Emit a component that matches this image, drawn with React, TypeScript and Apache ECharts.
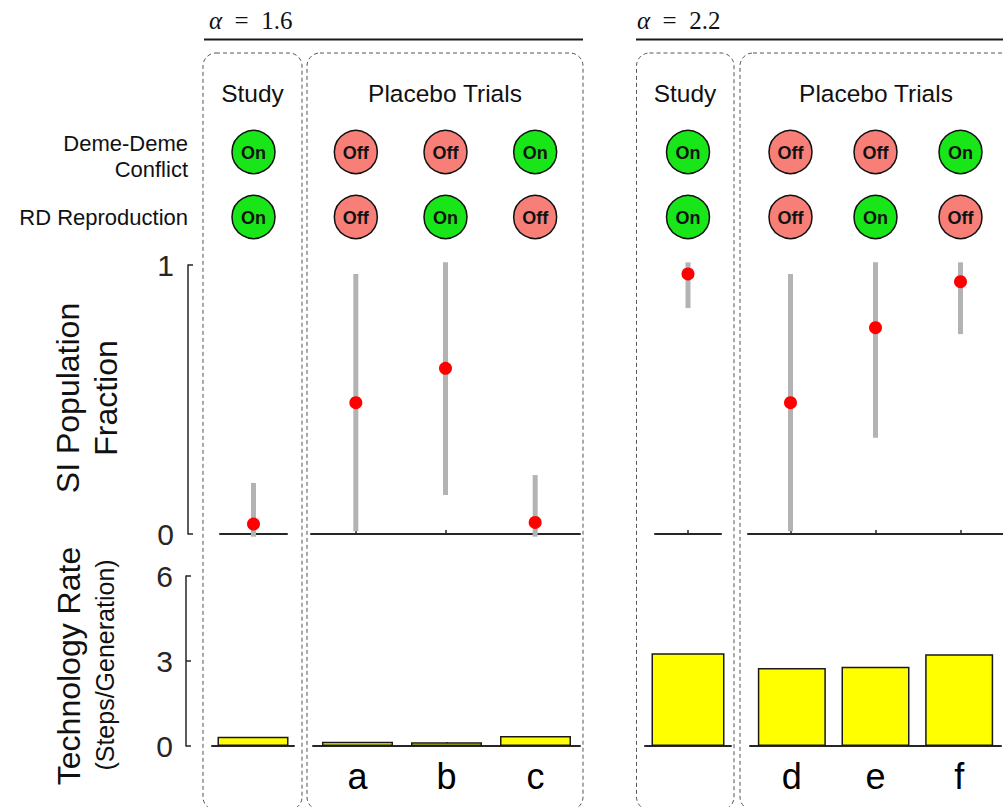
import React, { useEffect, useRef } from "react";
import * as echarts from "echarts";

// ---------- data ----------
const alphaValues = ["1.6", "2.2"];
const studyCategories = ["Study"];
const placeboCategories1 = ["a", "b", "c"];
const placeboCategories2 = ["d", "e", "f"];

// SI population fraction (mean, lower end, upper end of the grey range)
const study1Mean = [0.037];
const study1Low = [-0.01];
const study1High = [0.19];
const placebo1Mean = [0.488, 0.616, 0.043];
const placebo1Low = [0.01, 0.145, -0.01];
const placebo1High = [0.967, 1.01, 0.219];
const study2Mean = [0.967];
const study2Low = [0.84];
const study2High = [1.01];
const placebo2Mean = [0.488, 0.767, 0.938];
const placebo2Low = [0.01, 0.358, 0.743];
const placebo2High = [0.967, 1.01, 1.01];

// Technology rate (steps / generation)
const study1Rate = [0.33];
const placebo1Rate = [0.15, 0.13, 0.35];
const study2Rate = [3.27];
const placebo2Rate = [2.75, 2.8, 3.24];

// switches
const conflictStudy = ["On"];
const conflictPlacebo = ["Off", "Off", "On"];
const rdStudy = ["On"];
const rdPlacebo = ["Off", "On", "Off"];

const topTicks = { min: 0, max: 1, interval: 1 };
const bottomTicks = { min: 0, max: 6, interval: 3 };

// ---------- layout ----------
const FONT = "'Liberation Sans', Arial, Helvetica, sans-serif";
const SERIF = "'Liberation Serif', 'DejaVu Serif', serif";
const AXIS_COLOR = "#262626";
const TOP_Y = 265;
const TOP_H = 269;
const BOT_Y = 576;
const BOT_H = 170;
const topGrids = [
  { left: 220, width: 67 },
  { left: 311, width: 269 },
  { left: 655, width: 66 },
  { left: 748, width: 258 },
];
const bottomGrids = [
  { left: 212, width: 82 },
  { left: 313, width: 267 },
  { left: 645, width: 86 },
  { left: 750, width: 251 },
];

const panels = [
  { cats: studyCategories, mean: study1Mean, low: study1Low, high: study1High, rate: study1Rate, conflict: conflictStudy, rd: rdStudy, showLabels: false },
  { cats: placeboCategories1, mean: placebo1Mean, low: placebo1Low, high: placebo1High, rate: placebo1Rate, conflict: conflictPlacebo, rd: rdPlacebo, showLabels: true },
  { cats: studyCategories, mean: study2Mean, low: study2Low, high: study2High, rate: study2Rate, conflict: conflictStudy, rd: rdStudy, showLabels: false },
  { cats: placeboCategories2, mean: placebo2Mean, low: placebo2Low, high: placebo2High, rate: placebo2Rate, conflict: conflictPlacebo, rd: rdPlacebo, showLabels: true },
];

export default function App() {
  const ref = useRef<HTMLDivElement>(null);

  useEffect(() => {
    if (!ref.current) return;
    const chart = echarts.init(ref.current, null, { renderer: "svg" });

    const grid: any[] = [];
    const xAxis: any[] = [];
    const yAxis: any[] = [];
    const series: any[] = [];

    const xAxisBase = (cats: string[], gridIndex: number, showLabels: boolean) => ({
      type: "category",
      gridIndex,
      data: cats,
      axisLine: { show: true, lineStyle: { color: AXIS_COLOR, width: 2 } },
      axisTick: { show: true, inside: true, length: 4, alignWithLabel: true, lineStyle: { color: AXIS_COLOR, width: 1.5 } },
      axisLabel: { show: showLabels, fontSize: 36, color: "#000", fontFamily: FONT, margin: 12 },
      splitLine: { show: false },
    });

    // top grids 0..3
    panels.forEach((p, i) => {
      grid.push({ left: topGrids[i].left, width: topGrids[i].width, top: TOP_Y, height: TOP_H, containLabel: false });
      xAxis.push(xAxisBase(p.cats, i, false));
      yAxis.push({
        type: "value",
        gridIndex: i,
        ...topTicks,
        show: i === 0,
        offset: 32,
        axisLine: { show: true, lineStyle: { color: AXIS_COLOR, width: 1.5 } },
        axisTick: { show: true, inside: true, length: 5, lineStyle: { color: AXIS_COLOR, width: 1.5 } },
        axisLabel: { fontSize: 30, color: AXIS_COLOR, fontFamily: FONT, margin: 14 },
        splitLine: { show: false },
      });
      series.push({
        type: "custom",
        xAxisIndex: i,
        yAxisIndex: i,
        clip: false,
        encode: { x: 0, y: [1, 2] },
        data: p.cats.map((_, k) => [k, p.low[k], p.high[k]]),
        renderItem: (params: any, api: any) => {
          const x = api.value(0);
          const a = api.coord([x, api.value(1)]);
          const b = api.coord([x, api.value(2)]);
          return {
            type: "line",
            shape: { x1: a[0], y1: a[1], x2: b[0], y2: b[1] },
            style: { stroke: "#b3b3b3", lineWidth: 5 },
          };
        },
        z: 2,
      });
      series.push({
        type: "scatter",
        xAxisIndex: i,
        yAxisIndex: i,
        data: p.mean,
        symbolSize: 13,
        itemStyle: { color: "#ff0000", opacity: 1 },
        z: 3,
      });
    });

    // bottom grids 4..7
    panels.forEach((p, i) => {
      const gi = i + 4;
      grid.push({ left: bottomGrids[i].left, width: bottomGrids[i].width, top: BOT_Y, height: BOT_H, containLabel: false });
      xAxis.push(xAxisBase(p.cats, gi, p.showLabels));
      yAxis.push({
        type: "value",
        gridIndex: gi,
        ...bottomTicks,
        show: i === 0,
        offset: 26,
        axisLine: { show: true, lineStyle: { color: AXIS_COLOR, width: 1.5 } },
        axisTick: { show: true, inside: true, length: 5, lineStyle: { color: AXIS_COLOR, width: 1.5 } },
        axisLabel: { fontSize: 30, color: AXIS_COLOR, fontFamily: FONT, margin: 13 },
        splitLine: { show: false },
      });
      series.push({
        type: "bar",
        xAxisIndex: gi,
        yAxisIndex: gi,
        data: p.rate,
        barWidth: i === 3 ? 68 : i === 2 ? 73 : 71,
        itemStyle: { color: "#ffff00", borderColor: "#1a1a1a", borderWidth: 1.5 },
      });
    });

    chart.setOption({
      animation: false,
      backgroundColor: "#ffffff",
      grid,
      xAxis,
      yAxis,
      series,
    });

    // graphic annotations
    const g: any[] = [];
    const boxes = [
      { x: 203, w: 99 },
      { x: 307, w: 276 },
      { x: 636.5, w: 97.5 },
      { x: 740, w: 300 },
    ];
    boxes.forEach((b) =>
      g.push({
        type: "rect",
        shape: { x: b.x, y: 53, width: b.w, height: 757, r: 13 },
        style: { fill: "none", stroke: "#555", lineWidth: 1, lineDash: [4, 3] },
        silent: true,
      })
    );
    const alphaPos = [
      { x: 209, x1: 204, x2: 583 },
      { x: 637, x1: 636, x2: 1010 },
    ];
    alphaValues.forEach((v, i) => {
      g.push({
        type: "line",
        shape: { x1: alphaPos[i].x1, y1: 39.5, x2: alphaPos[i].x2, y2: 39.5 },
        style: { stroke: "#1a1a1a", lineWidth: 2 },
      });
      g.push({
        type: "text",
        x: alphaPos[i].x,
        y: 20,
        style: {
          text: "{a|α}{b|  =  " + v + "}",
          verticalAlign: "middle",
          align: "left",
          rich: {
            a: { fontFamily: SERIF, fontStyle: "italic", fontSize: 25, fill: "#111" },
            b: { fontFamily: SERIF, fontSize: 25, fill: "#111" },
          },
        },
      });
    });

    const headers = [
      { text: "Study", x: 252.5 },
      { text: "Placebo Trials", x: 445 },
      { text: "Study", x: 685 },
      { text: "Placebo Trials", x: 876 },
    ];
    headers.forEach((h) =>
      g.push({
        type: "text",
        x: h.x,
        y: 93,
        style: { text: h.text, fontSize: 24.5, fontFamily: FONT, fill: "#111", align: "center", verticalAlign: "middle" },
      })
    );

    const rowLabels = [
      { text: "Deme-Deme", y: 143 },
      { text: "Conflict", y: 169 },
      { text: "RD Reproduction", y: 217 },
    ];
    rowLabels.forEach((r) =>
      g.push({
        type: "text",
        x: 188,
        y: r.y,
        style: { text: r.text, fontSize: 22, fontFamily: FONT, fill: "#111", align: "right", verticalAlign: "middle" },
      })
    );

    const rowsY = [152, 217];
    panels.forEach((p, i) => {
      p.cats.forEach((c, k) => {
        const px = chart.convertToPixel({ xAxisIndex: i }, c) as number;
        [p.conflict[k], p.rd[k]].forEach((state, r) => {
          g.push({
            type: "circle",
            shape: { cx: px, cy: rowsY[r], r: 21.5 },
            style: { fill: state === "On" ? "#19e619" : "#f77f78", stroke: "#111", lineWidth: 1.5 },
          });
          g.push({
            type: "text",
            x: px,
            y: rowsY[r] + 1,
            style: { text: state, fontSize: 18, fontWeight: "bold", fontFamily: FONT, fill: "#111", align: "center", verticalAlign: "middle" },
          });
        });
      });
    });

    // axis titles
    const titles = [
      { text: "SI Population", x: 68, y: 398, size: 32 },
      { text: "Fraction", x: 106, y: 398, size: 32 },
      { text: "Technology Rate", x: 69, y: 666, size: 32 },
      { text: "(Steps/Generation)", x: 105, y: 665, size: 25 },
    ];
    titles.forEach((t) =>
      g.push({
        type: "text",
        x: t.x,
        y: t.y,
        rotation: Math.PI / 2,
        style: { text: t.text, fontSize: t.size, fontFamily: FONT, fill: "#111", align: "center", verticalAlign: "middle" },
      })
    );

    chart.setOption({ graphic: g });

    return () => chart.dispose();
  }, []);

  return (
    <div
      ref={ref}
      style={{ position: "fixed", left: 0, top: 0, width: 1003, height: 807, background: "#fff" }}
    />
  );
}
